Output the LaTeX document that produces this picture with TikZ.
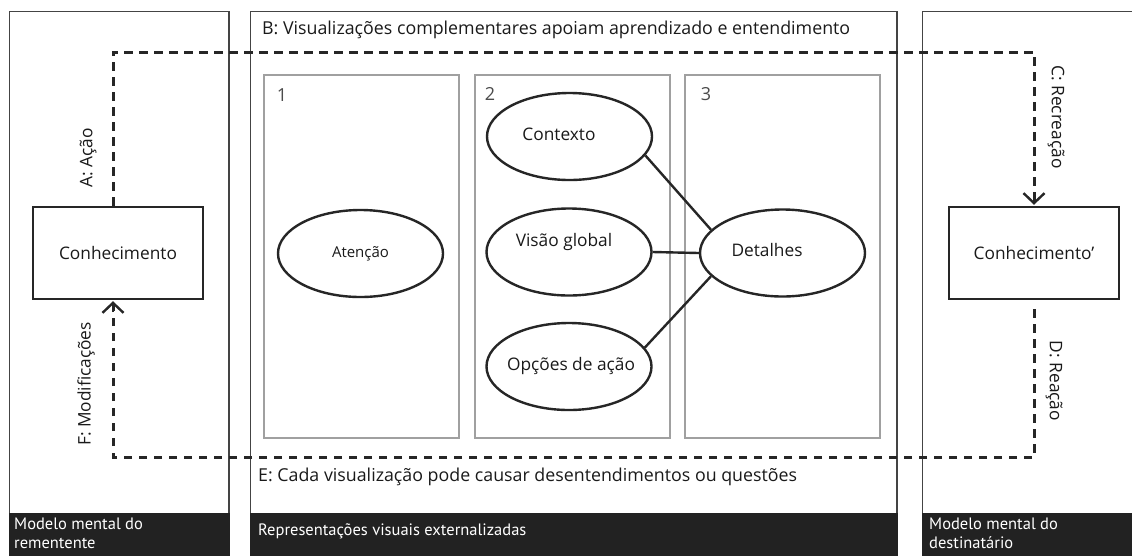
\documentclass[tikz,border=0pt]{standalone}
\usepackage{fontspec}
\setmainfont{Open Sans}
\newfontfamily\barfont{PT Sans}
\usetikzlibrary{shapes.geometric,arrows.meta}
\definecolor{txt}{HTML}{1A1A1A}
\definecolor{panelline}{HTML}{444444}
\definecolor{innerline}{HTML}{A0A0A0}
\definecolor{barfill}{HTML}{222222}
\tikzset{
  panel/.style={draw=panelline,line width=1.8pt},
  innerbox/.style={draw=innerline,line width=1.4pt},
  bar/.style={fill=barfill,draw=none},
  bartext/.style={text=white,font=\barfont\fontsize{16.5}{19}\selectfont,align=left,inner sep=0pt},
  knowbox/.style={draw=black!85,line width=2.4pt,minimum width=170pt,minimum height=92pt,font=\fontsize{17.3}{20}\selectfont,text=txt},
  oval/.style={ellipse,draw=black!85,line width=2.4pt,minimum width=165pt,minimum height=87pt,inner sep=0pt,font=\fontsize{17.3}{20}\selectfont,text=txt},
  flowline/.style={line width=3pt,draw=black!85,dash pattern=on 8.5pt off 6.5pt},
  chev/.style={-{Straight Barb[length=10pt,width=21pt,line width=2.4pt]}},
  link/.style={line width=2.4pt,draw=black!85},
  lab/.style={font=\fontsize{17.3}{20}\selectfont,text=txt,inner sep=0pt},
  wide/.style={font=\fontsize{17.8}{20}\selectfont},
  num/.style={font=\fontsize{18}{20}\selectfont,text=black!70,inner sep=0pt}
}
\begin{document}
\begin{tikzpicture}[x=1pt,y=-1pt]
\useasboundingbox (0,0) rectangle (1132,555);
\fill[white] (0,0) rectangle (1132,555);
% panels
\draw[panel] (9.5,11.5) rectangle (229,560);
\draw[panel] (250.5,11.5) rectangle (897,560);
\draw[panel] (922.5,11.5) rectangle (1140,560);
\fill[bar] (8.5,513) rectangle (230,556);
\fill[bar] (249.5,513) rectangle (898,556);
\fill[bar] (921.5,513) rectangle (1133,556);
\node[bartext,anchor=north west] (barL) at (14,518) {Modelo mental do\\rementente};
\node[bartext,anchor=west] (barM) at (258,531) {Representações visuais externalizadas};
\node[bartext,anchor=north west] (barR) at (929,518) {Modelo mental do\\destinatário};
% inner boxes
\draw[innerbox] (264,75) rectangle (459,438);
\draw[innerbox] (475,75) rectangle (670,438);
\draw[innerbox] (685,75) rectangle (880,438);
\node[num] (n1) at (282,95) {1};
\node[num] (n2) at (490,94) {2};
\node[num] (n3) at (706,94) {3};
% header / footer texts
\node[lab,wide,anchor=west] (tB) at (262,30) {B: Visualizações complementares apoiam aprendizado e entendimento};
\node[lab,wide,anchor=west] (tE) at (258,477) {E: Cada visualização pode causar desentendimentos ou questões};
% knowledge boxes
\node[knowbox] (kL) at (118,253) {Conhecimento};
\node[knowbox] (kR) at (1034,253) {Conhecimento'};
% ellipses
\node[oval,font=\fontsize{15}{17}\selectfont] (aten) at (360.5,253.5) {Atenção};
\node[oval] (ctx) at (569.5,136.5) {};
\node[lab] (ctxt) at (559,134) {Contexto};
\node[oval] (vg) at (569,252) {};
\node[lab] (vgt) at (564,242) {Visão global};
\node[oval] (op) at (569,366.5) {};
\node[lab] (opt) at (571,366) {Opções de ação};
\node[oval] (det) at (782.5,253) {};
\node[lab] (dett) at (767,250) {Detalhes};
\draw[link] (ctx.-14) -- (det.162);
\draw[link] (vg.east) -- (det.west);
\draw[link] (op.14) -- (det.198);
% dashed loop
\coordinate (tl) at (113,52);
\coordinate (tr) at (1034,52);
\coordinate (bl) at (113,457);
\coordinate (br) at (1034,457);
\coordinate (dstart) at (1034,309);
\draw[flowline] (tl |- kL.north) -- (tl) -- (tr) -- ([yshift=4pt]kR.north);
\draw[line width=2.4pt,draw=black!85,chev] ([yshift=12pt]kR.north) -- ([yshift=1pt]kR.north);
\draw[flowline] (dstart) -- (br) -- (bl) -- ([yshift=-4pt]tl |- kL.south);
\draw[line width=2.4pt,draw=black!85,chev] ([yshift=-12pt]tl |- kL.south) -- ([yshift=-1pt]tl |- kL.south);
% rotated labels
\node[lab,rotate=90] (lA) at (88,158) {A: Ação};
\node[lab,rotate=90] (lF) at (86,384) {F: Modificações};
\node[lab,rotate=-90] (lC) at (1056,117) {C: Recreação};
\node[lab,rotate=-90] (lD) at (1054,381) {D: Reação};
\end{tikzpicture}
\end{document}
